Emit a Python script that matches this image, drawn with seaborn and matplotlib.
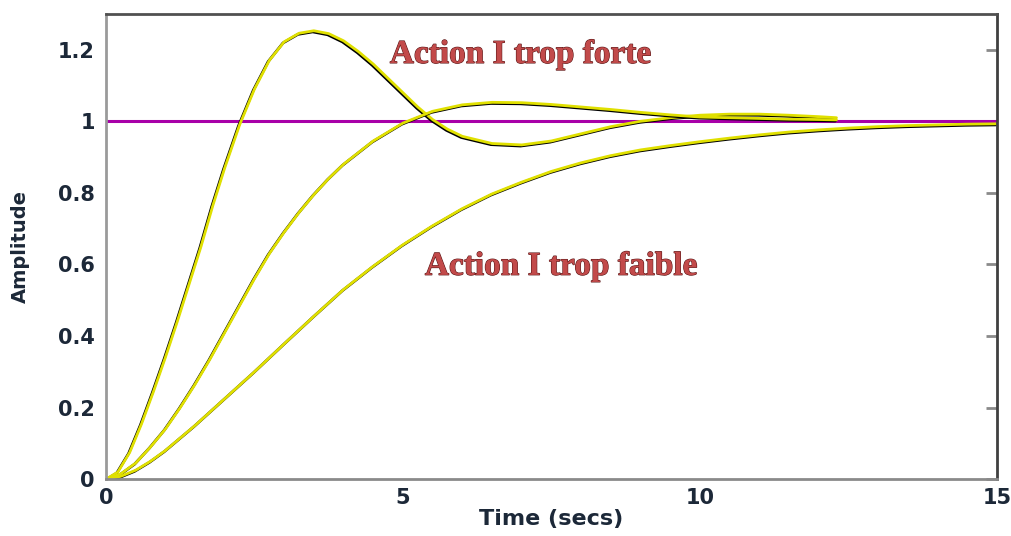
import seaborn as sns
import pandas as pd
import matplotlib.pyplot as plt
import matplotlib.patheffects as pe

# step responses
t_forte = [0, 0.2, 0.4, 0.6, 0.8, 1.0, 1.2, 1.4, 1.6, 1.8, 2.0, 2.25, 2.5, 2.75, 3.0,
           3.25, 3.5, 3.75, 4.0, 4.25, 4.5, 4.75, 5.0, 5.25, 5.5, 5.75, 6.0, 6.5, 7.0,
           7.5, 8.0, 8.5, 9.0, 9.5, 10, 10.5, 11, 11.5, 12, 12.3]
y_forte = [0, 0.02, 0.075, 0.155, 0.245, 0.34, 0.44, 0.545, 0.65, 0.765, 0.87, 0.99,
           1.09, 1.17, 1.222, 1.246, 1.253, 1.245, 1.225, 1.195, 1.16, 1.12, 1.08, 1.04,
           1.005, 0.978, 0.958, 0.938, 0.934, 0.945, 0.965, 0.985, 1.0, 1.01, 1.017,
           1.02, 1.02, 1.017, 1.013, 1.01]

t_moyen = [0, 0.25, 0.5, 0.75, 1.0, 1.25, 1.5, 1.75, 2.0, 2.25, 2.5, 2.75, 3.0, 3.25,
           3.5, 3.75, 4.0, 4.5, 5.0, 5.5, 6.0, 6.5, 7.0, 7.5, 8.0, 8.5, 9.0, 9.5, 10,
           10.5, 11, 11.5, 12, 12.3]
y_moyen = [0, 0.015, 0.045, 0.09, 0.14, 0.2, 0.265, 0.335, 0.41, 0.485, 0.56, 0.63,
           0.69, 0.745, 0.795, 0.84, 0.88, 0.945, 0.995, 1.028, 1.046, 1.053, 1.052,
           1.047, 1.04, 1.033, 1.025, 1.018, 1.012, 1.01, 1.008, 1.006, 1.005, 1.004]

t_faible = [0, 0.25, 0.5, 0.75, 1.0, 1.5, 2.0, 2.5, 3.0, 3.5, 4.0, 4.5, 5.0, 5.5, 6.0,
            6.5, 7.0, 7.5, 8.0, 8.5, 9.0, 9.5, 10, 10.5, 11, 11.5, 12, 12.5, 13, 13.5,
            14, 14.5, 15]
y_faible = [0, 0.008, 0.025, 0.05, 0.08, 0.15, 0.225, 0.3, 0.378, 0.455, 0.53, 0.595,
            0.655, 0.708, 0.756, 0.797, 0.83, 0.86, 0.884, 0.904, 0.92, 0.932, 0.943,
            0.953, 0.962, 0.97, 0.976, 0.981, 0.985, 0.988, 0.99, 0.992, 0.993]

consigne = 1.0
x_ticks = [0, 5, 10, 15]
y_ticks = [0, 0.2, 0.4, 0.6, 0.8, 1.0, 1.2]
y_labels = ['0', '0.2', '0.4', '0.6', '0.8', '1', '1.2']

df = pd.concat([
    pd.DataFrame({'t': t_forte, 'y': y_forte, 'cas': 'forte'}),
    pd.DataFrame({'t': t_moyen, 'y': y_moyen, 'cas': 'moyen'}),
    pd.DataFrame({'t': t_faible, 'y': y_faible, 'cas': 'faible'}),
])

sns.set_style('white')
plt.rcParams['font.family'] = ['DejaVu Sans']

fig = plt.figure(figsize=(10.12, 5.36), dpi=100)
ax = fig.add_axes([0.1047, 0.106, 0.8803, 0.868])

ax.axhline(consigne, color='#a800a8', lw=2.2, zorder=1)

sns.lineplot(data=df, x='t', y='y', hue='cas', units='cas', estimator=None,
             palette=['#e0e000'] * 3, lw=2.0, legend=False, ax=ax, sort=False)
for ln in ax.lines[1:]:
    ln.set_zorder(2)
    ln.set_path_effects([pe.SimpleLineShadow(offset=(-0.8, -0.8), shadow_color='black',
                                             alpha=1), pe.Normal()])

ax.set_xlim(0, 15)
ax.set_ylim(0, 1.3)
ax.set_xticks(x_ticks)
ax.set_xticklabels([str(v) for v in x_ticks])
ax.set_yticks(y_ticks)
ax.set_yticklabels(y_labels)

for tl in ax.get_xticklabels() + ax.get_yticklabels():
    tl.set_fontsize(15)
    tl.set_fontweight('bold')
    tl.set_color('#1c2838')
ax.tick_params(axis='both', direction='in', length=8, width=2, color='#8a8a8a',
               top=False, right=True, pad=8)
ax.tick_params(axis='x', length=5, pad=6)

ax.set_xlabel('Time (secs)', labelpad=1, fontsize=16, fontweight='bold',
              color='#1c2838')
ax.set_ylabel('Amplitude', labelpad=20, fontsize=14, fontweight='bold',
              color='#1c2838')

for side, col in [('left', '#9a9a9a'), ('bottom', '#8a8a8a'),
                  ('top', '#505050'), ('right', '#404040')]:
    ax.spines[side].set_visible(True)
    ax.spines[side].set_color(col)
    ax.spines[side].set_linewidth(2)

txt = dict(family='Liberation Serif', fontweight='bold', fontsize=24,
           color='#c24a4a', va='baseline', ha='left',
           path_effects=[pe.SimpleLineShadow(offset=(-1, -1), shadow_color='#3a0c0c',
                                             alpha=1),
                         pe.withStroke(linewidth=0.8, foreground='#5a1616')])
ax.text(4.78, 1.163, 'Action I trop forte', **txt)
ax.text(5.37, 0.571, 'Action I trop faible', **txt)

fig.savefig('out.png', dpi=100)
